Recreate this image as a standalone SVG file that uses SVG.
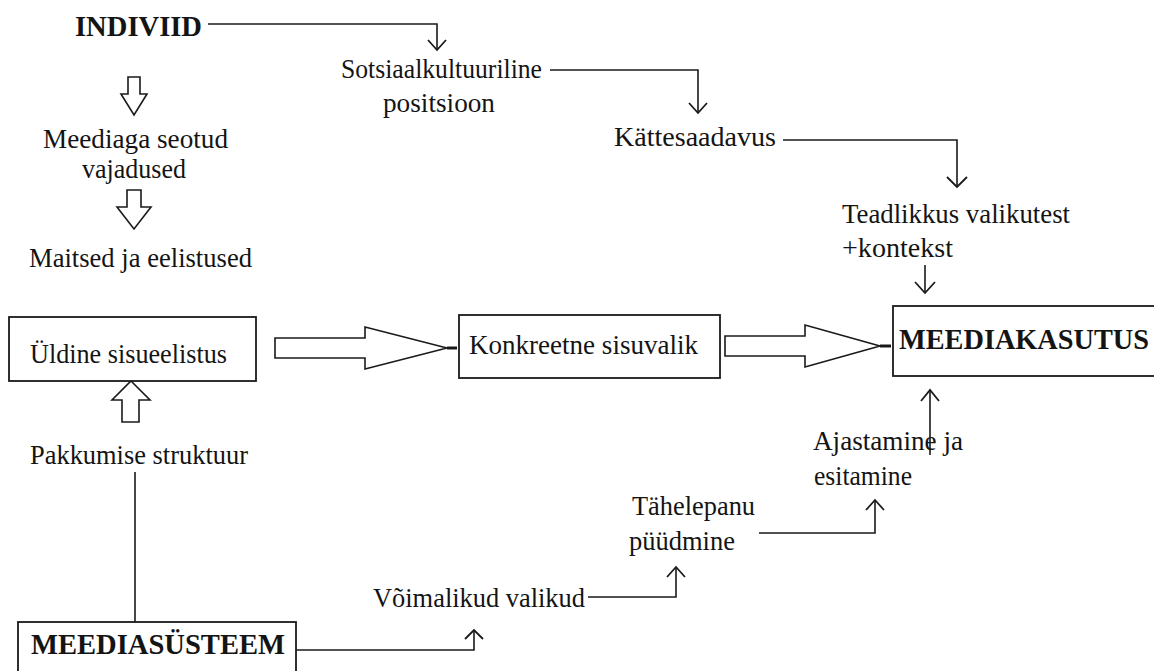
<svg xmlns="http://www.w3.org/2000/svg" width="1154" height="671" viewBox="0 0 1154 671">
<style>
.t{font-family:"Liberation Serif","Times New Roman",serif;font-size:28px;fill:#141414}
.b{font-family:"Liberation Serif","Times New Roman",serif;font-size:29px;font-weight:bold;fill:#141414}
.box{fill:#fff;stroke:#1a1a1a;stroke-width:1.8}
.ln{fill:none;stroke:#1a1a1a;stroke-width:1.6}
.hd{fill:none;stroke:#1a1a1a;stroke-width:1.8}
.blk{fill:#fff;stroke:#1a1a1a;stroke-width:1.6;stroke-linejoin:miter}
</style>
<rect width="1154" height="671" fill="#fff"/>
<g id="connectors">
<path class="ln" d="M208,24 H437 V50"/><polyline class="hd" points="428,40 437,50 446,40"/>
<path class="ln" d="M550,70 H698 V113"/><polyline class="hd" points="689,103 698,113 707,103"/>
<path class="ln" d="M783,140 H957 V187"/><polyline class="hd" points="947,177 957,187 967,177"/>
<path class="ln" d="M925,265 V293"/><polyline class="hd" points="915,282 925,293 935,282"/>
<path class="ln" d="M930,455 V390"/><polyline class="hd" points="921,401 930,390 939,401"/>
<path class="ln" d="M759,533 H875 V500"/><polyline class="hd" points="866,510 875,500 884,510"/>
<path class="ln" d="M588,597 H676 V567"/><polyline class="hd" points="667,577 676,567 685,577"/>
<path class="ln" d="M296,650 H474 V630"/><polyline class="hd" points="465,639 474,630 483,639"/>
<path class="ln" d="M135,472 V633"/>
<polygon class="blk" points="128,77 140,77 140,94 147,94 134,115 121,94 128,94"/>
<polygon class="blk" points="127,190 141,190 141,207 151,207 134,229 117,207 127,207"/>
<polygon class="blk" points="131,381 150,400 139,400 139,422 122,422 122,400 112,400"/>
<polygon class="blk" points="275,338 365,338 365,327 447,348 365,369 365,358 275,358"/>
<path d="M447,348 H457" stroke="#1a1a1a" stroke-width="3"/>
<polygon class="blk" points="725,336 805,336 805,325 880,346 805,367 805,356 725,356"/>
<path d="M880,346 H891" stroke="#1a1a1a" stroke-width="3"/>
</g>
<g id="individ"><text class="b" x="75" y="36" textLength="127" lengthAdjust="spacingAndGlyphs">INDIVIID</text></g>
<g id="sotsiaal"><text class="t" x="341" y="78" textLength="201" lengthAdjust="spacingAndGlyphs">Sotsiaalkultuuriline</text><text class="t" x="383" y="112" textLength="112" lengthAdjust="spacingAndGlyphs">positsioon</text></g>
<g id="vajadused"><text class="t" x="43" y="148" textLength="185" lengthAdjust="spacingAndGlyphs">Meediaga seotud</text><text class="t" x="82" y="178" textLength="104" lengthAdjust="spacingAndGlyphs">vajadused</text></g>
<g id="maitsed"><text class="t" x="29" y="267" textLength="223" lengthAdjust="spacingAndGlyphs">Maitsed ja eelistused</text></g>
<g id="kattesaadavus"><text class="t" x="614" y="146" textLength="162" lengthAdjust="spacingAndGlyphs">Kättesaadavus</text></g>
<g id="teadlikkus"><text class="t" x="842" y="223" textLength="228" lengthAdjust="spacingAndGlyphs">Teadlikkus valikutest</text><text class="t" x="842" y="257" textLength="111" lengthAdjust="spacingAndGlyphs">+kontekst</text></g>
<g id="yldine"><rect class="box" x="9" y="317" width="247" height="64"/><text class="t" x="30" y="363" textLength="197" lengthAdjust="spacingAndGlyphs">Üldine sisueelistus</text></g>
<g id="konkreetne"><rect class="box" x="459" y="315" width="261" height="63"/><text class="t" x="469" y="354" textLength="229" lengthAdjust="spacingAndGlyphs">Konkreetne sisuvalik</text></g>
<g id="meediakasutus"><rect class="box" x="893" y="306" width="280" height="70"/><text class="b" x="899" y="349" textLength="250" lengthAdjust="spacingAndGlyphs">MEEDIAKASUTUS</text></g>
<g id="pakkumise"><text class="t" x="30" y="464" textLength="218" lengthAdjust="spacingAndGlyphs">Pakkumise struktuur</text></g>
<g id="ajastamine"><text class="t" x="813" y="450" textLength="150" lengthAdjust="spacingAndGlyphs">Ajastamine ja</text><text class="t" x="814" y="485" textLength="98" lengthAdjust="spacingAndGlyphs">esitamine</text></g>
<g id="tahelepanu"><text class="t" x="632" y="515" textLength="123" lengthAdjust="spacingAndGlyphs">Tähelepanu</text><text class="t" x="629" y="550" textLength="106" lengthAdjust="spacingAndGlyphs">püüdmine</text></g>
<g id="voimalikud"><text class="t" x="373" y="607" textLength="212" lengthAdjust="spacingAndGlyphs">Võimalikud valikud</text></g>
<g id="meediasysteem"><rect class="box" x="18" y="622" width="278" height="70"/><text class="b" x="31" y="654" textLength="254" lengthAdjust="spacingAndGlyphs">MEEDIASÜSTEEM</text></g>
</svg>
